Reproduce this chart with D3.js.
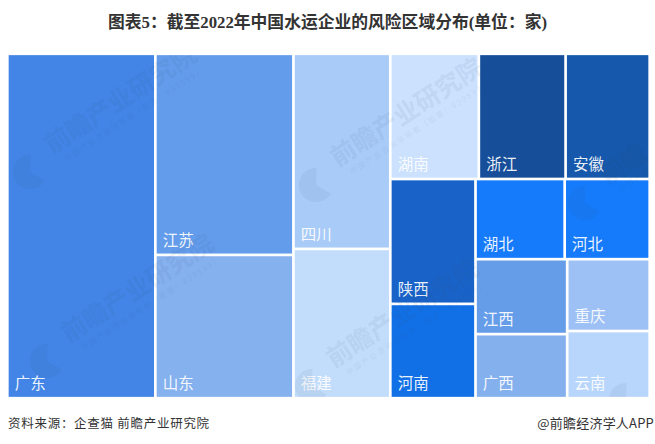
<!DOCTYPE html>
<html><head><meta charset="utf-8">
<script src="https://cdn.jsdelivr.net/npm/d3@7/dist/d3.min.js"></script>
<style>html,body{margin:0;padding:0;background:#fff}svg{display:block}</style>
</head><body>
<svg id="c" width="655" height="444"></svg>
<script>
const titleText = "图表5：截至2022年中国水运企业的风险区域分布(单位：家)";
const sourceText = "资料来源：企查猫 前瞻产业研究院";
const brandText = "@前瞻经济学人APP";
const provinces = ["广东","江苏","山东","四川","福建","湖南","浙江","安徽","陕西","河南","湖北","河北","江西","广西","重庆","云南"];
const values = [92.0,50.1,35.7,34.1,26.1,20.0,19.6,19.0,19.2,14.5,12.9,12.3,12.4,10.6,10.7,10.0];
const groups = ["","b","b","c","c","d/t","d/t","d/t","d/u/l","d/u/l","d/u/r/p","d/u/r/p","d/u/r/q/g","d/u/r/q/g","d/u/r/q/h","d/u/r/q/h"];
const colors = ["#4285e6","#639ceb","#85b1ef","#a9cbf8","#c2dcfc","#cbe1fe","#164e9a","#1658ab","#1963c8","#1270e6","#167bfa","#167bfa","#669de9","#84b0ed","#9dc1f5","#b8d5fb"];
const wmMain = ["前瞻产业研究院","前瞻产业研究院","前瞻产业研究院","前瞻产业研究院","前瞻",""];
const wmSub = ["中国产业咨询领导者（股票：839599）","中国产业咨询领导者（股票：839599）","中国产业咨询领导者（股票：839599）","中国产业咨询领导者（股票：839599）","中国产业",""];

const svg = d3.select("#c");
const box = {x0:7.3, y0:53.8, x1:649.7, y1:398.2};
const FONT = "'Noto Sans CJK SC','Noto Sans',sans-serif";

const rows = provinces.map((p,i)=>({path:"/"+(groups[i]?groups[i]+"/":"")+p,name:p,value:values[i],color:colors[i]}));
const root = d3.stratify().path(d=>d.path)(rows)
  .sum(d=>d?d.value:0);
d3.treemap()
  .size([box.x1-box.x0, box.y1-box.y0])
  .tile((n,a,b,c,d)=> (n.depth%2 ? d3.treemapSlice : d3.treemapDice)(n,a,b,c,d))(root);
const leaves = root.leaves();

svg.append("text").attr("x",327.5).attr("y",27.5).attr("text-anchor","middle")
  .attr("font-family","'Liberation Serif','Noto Sans CJK SC',serif").attr("font-weight",700)
  .attr("font-size",16.8).attr("fill","#333").text(titleText);

const g = svg.append("g").attr("transform",`translate(${box.x0},${box.y0})`);
const inset = 1.35;
g.selectAll("rect.cell").data(leaves).join("rect").attr("class","cell")
  .attr("x",d=>d.x0+inset).attr("y",d=>d.y0+inset)
  .attr("width",d=>d.x1-d.x0-2*inset).attr("height",d=>d.y1-d.y0-2*inset)
  .attr("fill",d=>d.data.color);

const defs = svg.append("defs");
defs.append("clipPath").attr("id","plot").append("rect")
  .attr("x",8.5).attr("y",55).attr("width",640).attr("height",342);
const wm = svg.append("g").attr("clip-path","url(#plot)").attr("opacity",0.07);
const marks = [[30,172],[47,361],[316,185],[312,386],[585,203],[626,400]];
marks.forEach(([x,y],i)=>{
  const m = wm.append("g").attr("transform",`translate(${x},${y}) rotate(-33)`);
  m.append("path").attr("d",d3.arc()({innerRadius:0,outerRadius:17,startAngle:-3.6,endAngle:0.6})).attr("fill","#33496b");
  if (wmMain[i]) m.append("text").attr("x",28).attr("y",-3).attr("font-family",FONT).attr("font-weight",700)
    .attr("font-size",25).attr("fill","#33496b").text(wmMain[i]);
  if (wmSub[i]) m.append("text").attr("x",36).attr("y",11).attr("font-family",FONT)
    .attr("font-size",7.5).attr("letter-spacing",1.8).attr("fill","#33496b").text(wmSub[i]);
});

g.selectAll("text.lab").data(leaves).join("text").attr("class","lab")
  .attr("x",d=>d.x0+inset+6).attr("y",d=>d.y1-inset-7.5)
  .attr("font-family",FONT).attr("font-size",15.5).attr("fill","#fff").attr("fill-opacity",0.92)
  .text(d=>d.data.name);

svg.append("text").attr("x",8).attr("y",427.5)
  .attr("font-family",FONT).attr("font-size",12.5).attr("letter-spacing",0.72).attr("fill","#333").text(sourceText);
svg.append("text").attr("x",654).attr("y",427.5).attr("text-anchor","end")
  .attr("font-family",FONT).attr("font-size",13).attr("letter-spacing",0.2).attr("fill","#333").text(brandText);
</script>
</body></html>
